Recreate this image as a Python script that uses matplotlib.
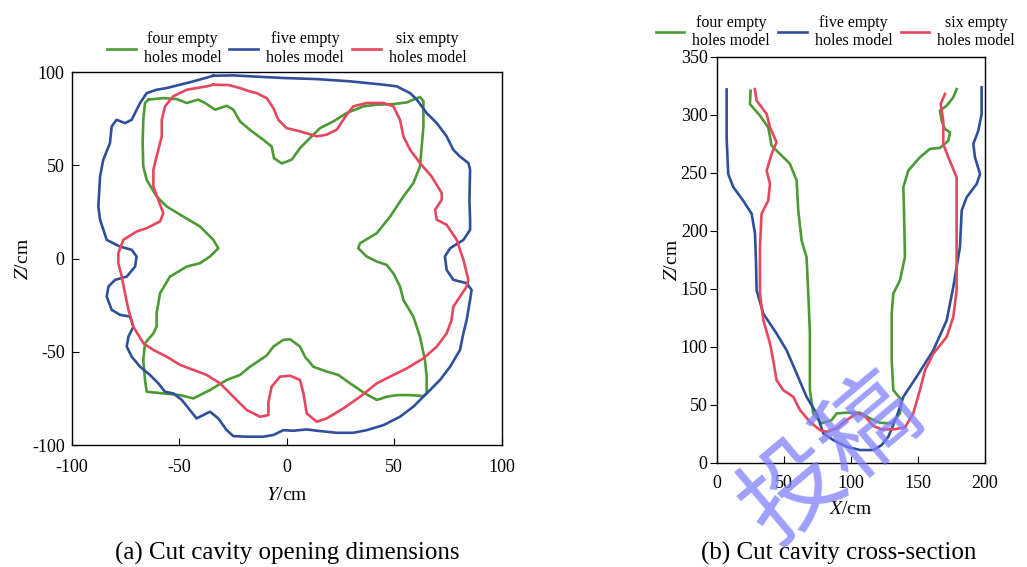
import matplotlib.pyplot as plt
import numpy as np

plt.rcParams['font.family'] = ['Liberation Serif', 'DejaVu Serif']
plt.rcParams['mathtext.fontset'] = 'stix'
plt.rcParams['axes.unicode_minus'] = False

green = '#4b9a34'
blue = '#2f4f9d'
red = '#e6465e'

labels = ['four empty\nholes model', 'five empty\nholes model', 'six empty\nholes model']

# (a) opening outline, Y/cm and Z/cm
four_yz = [(-64.3, 85.2), (-57.4, 86), (-51.2, 85.5), (-46.5, 83.4), (-41.1, 85.2), (-38, 83.4),
           (-33.3, 79.8), (-27.9, 81.9), (-24.8, 79.8), (-21.7, 73.5), (-17.1, 69), (-10.9, 63.7),
           (-7, 60.1), (-5.9, 53.8), (-2.3, 51), (2.3, 53), (6.2, 59.2), (11.6, 65.5), (15.5, 69.9),
           (21.7, 73.5), (27.9, 78), (35.7, 81.6), (41.9, 82.5), (49.6, 82.8), (55.8, 83.7),
           (62, 86.6), (63.6, 84.3), (63.6, 70.8), (62.8, 60.1), (62, 49.4), (58.9, 40.4),
           (54.3, 33.3), (48.1, 22.5), (41.9, 13.6), (34.1, 8.2), (33.3, 5.5), (37.2, 1.1),
           (41.9, -1.6), (46.5, -3.4), (49.6, -7.9), (52.7, -15), (54.3, -22.2), (58.9, -31.1),
           (62, -41.9), (64.3, -54.4), (65.1, -63.3), (65.1, -72.3), (63.6, -73.7), (57.4, -73.2),
           (51.2, -73.2), (46.5, -74.1), (41.9, -75.8), (36.4, -72.3), (29.5, -66.9), (24, -62.4),
           (18.6, -60.6), (12.4, -58), (8.5, -52.6), (6.2, -47.2), (1.6, -43.3), (-1.6, -43.6),
           (-6.2, -47.2), (-9.3, -52), (-17.1, -58), (-21.7, -62.4), (-27.9, -65.1), (-35.7, -70.5),
           (-43.4, -75), (-49.6, -73.2), (-57.4, -72.3), (-65.1, -71.4), (-65.9, -65.1),
           (-66.7, -54.4), (-65.9, -45.4), (-62, -40.1), (-60.5, -36.5), (-60.5, -29.3),
           (-58.9, -18.6), (-54.3, -9.7), (-46.5, -4.3), (-40.3, -2.5), (-35.7, 1.1), (-31.8, 5.5),
           (-34.1, 10), (-40.3, 17.2), (-48.1, 22.5), (-55.8, 27.9), (-60.5, 33.3), (-65.1, 42.2),
           (-66.7, 49.4), (-67, 61.9), (-66.7, 74.4), (-65.9, 83.4)]

five_yz = [(-34.1, 98.0), (-43.4, 95.0), (-55.8, 91.4), (-60.5, 90.5), (-65.1, 88.7), (-68.2, 83.4),
           (-72.1, 74.4), (-75.2, 72.6), (-79.1, 74.4), (-81.4, 70.8), (-82.2, 61.9), (-85.3, 53.0),
           (-86.8, 44.0), (-87.6, 28.0), (-86.8, 20.8), (-83.7, 10.0), (-77.5, 6.4), (-72.1, 4.7),
           (-69.8, 1.1), (-70.5, -4.3), (-74.4, -9.7), (-79.8, -11.4), (-82.9, -15.0), (-83.7, -20.4),
           (-81.4, -27.5), (-77.5, -30.2), (-72.9, -31.1), (-71.3, -36.5), (-73.6, -41.9),
           (-74.4, -47.2), (-72.1, -52.6), (-68.2, -58.0), (-63.6, -62.4), (-59.7, -66.9),
           (-56.6, -71.4), (-52.7, -72.3), (-48.8, -75.8), (-45.0, -81.2), (-41.9, -85.7),
           (-38.8, -83.9), (-35.7, -82.1), (-31.8, -85.7), (-27.9, -92.0), (-24.8, -95.2),
           (-18.6, -95.5), (-10.9, -95.5), (-6, -94.5), (-1.6, -92), (3.1, -92.3), (9.3, -91.6),
           (14, -92.3), (23.3, -93.4), (31, -93.4), (37.2, -92), (45, -89.3), (52.7, -84.8),
           (58.9, -79.4), (65.1, -72.3), (71.3, -65.1), (76, -58), (80.6, -49), (82.2, -40),
           (83.7, -32.9), (85.3, -22.2), (86, -16.8), (83.7, -13.2), (77.5, -11.4), (74.4, -6.1),
           (73.6, 1.1), (76, 5.5), (82.2, 10), (85.3, 15.4), (85.3, 20.8), (85, 31.5), (85.3, 47.6),
           (84.5, 51.2), (80.6, 54.7), (77.5, 58.3), (74.4, 65.5), (69.8, 72.6), (65.1, 78),
           (60.5, 85.2), (57.4, 88.7), (51.2, 92.3), (45, 93.2), (29.5, 95), (14, 96.2), (-1.6, 96.8),
           (-17, 97.7), (-25, 98.2)]

six_yz = [(-34.1, 93.2), (-37.2, 92.3), (-46.5, 90.5), (-52.7, 87), (-56.6, 81.6), (-58.1, 74.4),
          (-58.1, 65.5), (-60.5, 54.7), (-62, 47.6), (-62, 38.6), (-59.7, 31.5), (-57.4, 24.3),
          (-58.9, 19.9), (-65.1, 16.3), (-69.8, 14.5), (-76, 10), (-78.3, 2.9), (-78.3, -2.5),
          (-76.7, -9.7), (-75.2, -18.6), (-73.6, -27.5), (-71.3, -36.5), (-66.7, -45.4), (-62, -49),
          (-55.8, -52.6), (-49.6, -57), (-43.4, -59.7), (-37.2, -62.4), (-31, -66.9), (-24.8, -74.1),
          (-18.6, -81.2), (-12.4, -84.8), (-8.5, -83.9), (-8.5, -77), (-7, -68.7), (-3.1, -63.3),
          (1.6, -62.8), (6.2, -65.1), (7.8, -72.3), (9.3, -83), (14, -87.5), (18.6, -85.7),
          (26.4, -80.3), (34.1, -74.1), (41.9, -66.9), (49.6, -62.4), (55.8, -58.9), (63.6, -53.5),
          (69.8, -47.2), (74.4, -40.1), (76.7, -32.9), (77.5, -25.8), (80.6, -20.4), (83.7, -15),
          (84.5, -11.4), (82.2, -0.7), (79.1, 10), (74.4, 18.1), (69.8, 20.8), (69, 26.1),
          (72.1, 31.5), (72.1, 35.1), (67.4, 44), (62, 51.2), (57.4, 58.3), (54.3, 65.5),
          (52.7, 74.4), (49.6, 81.6), (45, 83.4), (37.2, 83.4), (31, 81.6), (27.9, 77.1),
          (23.3, 69.1), (18.6, 66.4), (14, 65.5), (6.2, 68.2), (0, 69.9), (-3.9, 74.4),
          (-6.2, 80.7), (-9.3, 86), (-14, 88.7), (-17.1, 89.6), (-22, 91.5), (-27, 93)]

# (b) cross-section, X/cm and Z/cm
four_xz = [(24.9, 320.9), (24.4, 309.4), (31.9, 299.4), (38.1, 289.3), (40.6, 273.5), (46.8, 266.4),
           (54.3, 257.8), (59.3, 243.4), (60.5, 217.6), (63, 191.7), (66.7, 177.4), (68, 145.8),
           (69.2, 111.4), (69.2, 62.6), (71.7, 42.5), (77.9, 33.9), (85.4, 36.7), (89.2, 42.5),
           (96.6, 43.1), (106.6, 43.1), (114.1, 38.2), (121.5, 34.4), (130.3, 33.9), (136.5, 42.5),
           (137.7, 54), (131.5, 62.6), (130.3, 88.4), (130.3, 128.6), (131.5, 145.8), (136.5, 157.3),
           (140.2, 177.4), (139.5, 217.6), (139, 237.7), (142.7, 252), (151.4, 263.5), (158.9, 270.7),
           (166.4, 271.6), (172.6, 277.8), (173.9, 285), (170.1, 287.9), (167.6, 295.1),
           (166.4, 303.7), (171.4, 308), (176.3, 315.2), (178.8, 322.3)]

five_xz = [(7, 322), (7, 280.7), (8.2, 249), (12, 237.7), (19.4, 226), (25.7, 214.7), (28.2, 197.5),
           (28.9, 174.5), (29.4, 148.7), (34.4, 128.6), (44.3, 111.4), (51.8, 97), (59.3, 76.9),
           (66.7, 56.8), (74.2, 42.5), (79.2, 25.3), (86.7, 19.5), (96.6, 13.8), (106.6, 10.9),
           (116.6, 10.9), (122.8, 15.2), (127.8, 22.4), (134, 39.6), (139, 56.8), (148.9, 74.1),
           (161.4, 97), (171.4, 122.8), (176.3, 151.5), (181.3, 186), (182.6, 217.6), (186.3, 229),
           (193.8, 240.5), (196.3, 249), (192.5, 263.5), (191.3, 275), (195, 286.5), (197.5, 300.8),
           (197.5, 323.8)]

six_xz = [(28.1, 322.3), (29.4, 312.3), (36.9, 300.8), (39.4, 289.3), (44.3, 276.4), (40.6, 266.4),
          (36.9, 252), (39.4, 240.5), (38.1, 226.2), (33.1, 214.7), (31.9, 186), (31.9, 145.8),
          (34.4, 123), (39.4, 102.8), (41.8, 88.4), (44.3, 71.2), (49.3, 62.6), (56.8, 56.8),
          (61.8, 45.4), (69.2, 35.3), (76.7, 28.1), (81.7, 26.7), (89.2, 29.6), (96.6, 36.7),
          (104.1, 42.5), (110.3, 40.2), (116.6, 31.6), (122.8, 28.7), (131.5, 28.7), (140.2, 30.4),
          (146.4, 42.5), (151.4, 62.6), (155.2, 79.8), (161.4, 94.1), (171.4, 108.5), (176.3, 125.7),
          (178.8, 148.7), (178.8, 186), (178.8, 246.3), (172.6, 263.5), (168.8, 275), (168.8, 295.1),
          (166.9, 309.4), (170.1, 318.1)]

fig = plt.figure(figsize=(10.27, 5.67), dpi=100)
ax1 = fig.add_axes([0.0698, 0.215, 0.4187, 0.658])
ax2 = fig.add_axes([0.6984, 0.184, 0.2607, 0.7155])

for pts, c, lab in zip([four_yz, five_yz, six_yz], [green, blue, red], labels):
    a = np.array(pts + [pts[0]])
    ax1.plot(a[:, 0], a[:, 1], color=c, lw=1.9, label=lab, solid_joinstyle='round')

for pts, c, lab in zip([four_xz, five_xz, six_xz], [green, blue, red], labels):
    a = np.array(pts)
    ax2.plot(a[:, 0], a[:, 1], color=c, lw=1.9, label=lab, solid_joinstyle='round')

ax1.set_xlim(-100, 100)
ax1.set_ylim(-100, 100)
ax1.set_xticks([-100, -50, 0, 50, 100])
ax1.set_yticks([-100, -50, 0, 50, 100])
ax1.tick_params(axis='x', direction='in', labelsize=13, length=5, pad=10)
ax1.tick_params(axis='y', direction='in', labelsize=13, length=5, pad=5)
ax1.set_xlabel(r'$\it{Y}$/cm', fontsize=14, labelpad=8)
ax1.set_ylabel(r'$\it{Z}$/cm', fontsize=14, labelpad=0)

ax2.set_xlim(0, 200)
ax2.set_ylim(0, 350)
ax2.set_xticks([0, 50, 100, 150, 200])
ax2.set_yticks(range(0, 351, 50))
ax2.tick_params(axis='x', direction='in', labelsize=13, length=5, pad=9)
ax2.tick_params(axis='y', direction='out', labelsize=13, length=5, pad=2)
ax2.set_xlabel(r'$\it{X}$/cm', fontsize=14, labelpad=6)
ax2.set_ylabel(r'$\it{Z}$/cm', fontsize=14, labelpad=0)

for ax in (ax1, ax2):
    for s in ax.spines.values():
        s.set_linewidth(1.0)

leg1 = ax1.legend(loc='lower center', bbox_to_anchor=(0.5, 1.0), ncol=3, frameon=False,
                  fontsize=11.5, handlelength=1.8, handletextpad=0.5, columnspacing=0.5,
                  labelspacing=0.2, borderaxespad=0.0)
leg2 = ax2.legend(loc='lower left', bbox_to_anchor=(-0.26, 1.0), ncol=3, frameon=False,
                  fontsize=11.5, handlelength=1.8, handletextpad=0.5, columnspacing=0.5,
                  labelspacing=0.2, borderaxespad=0.0, borderpad=0.5)
for leg in (leg1, leg2):
    for t in leg.get_texts():
        t.set_multialignment('center')

fig.text(0.28, 0.024, '(a) Cut cavity opening dimensions', ha='center', va='center', fontsize=18)
fig.text(0.817, 0.024, '(b) Cut cavity cross-section', ha='center', va='center', fontsize=18)

# watermark
fig.text(0.81, 0.19, '投稿', rotation=40, fontsize=72, color='#7f7fff', alpha=0.75,
         family=['Noto Sans CJK SC', 'DejaVu Sans'], ha='center', va='center')

fig.savefig('out.png', dpi=100)
